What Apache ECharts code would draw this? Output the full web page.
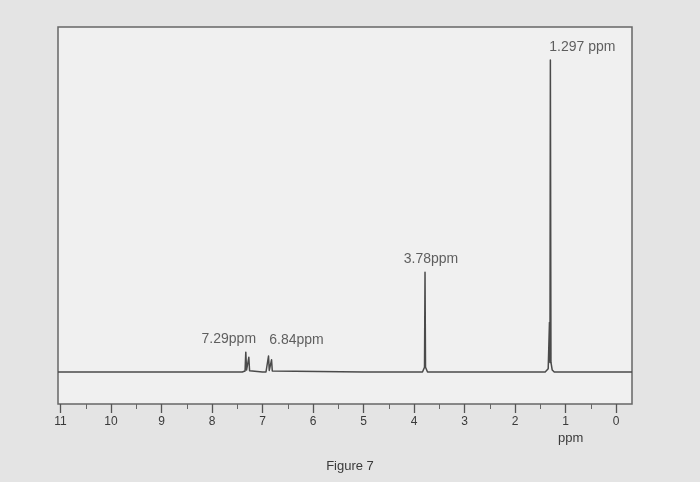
<!DOCTYPE html>
<html>
<head>
<meta charset="utf-8">
<script src="https://cdn.jsdelivr.net/npm/echarts@6/dist/echarts.min.js"></script>
<style>
html,body{margin:0;padding:0;background:#e4e4e4;}
#chart{width:700px;height:482px;}
</style>
</head>
<body>
<div id="chart"></div>
<script>
// Spectrum trace: [chemical shift (ppm), intensity]
const spectrum = [
  [11.05, 0], [7.40, 0], [7.345, 0.3], [7.33, 6.2], [7.315, 0.6], [7.285, 0.3], [7.27, 4.6], [7.255, 0.4], [7.23, 0],
  [7.0, 0], [6.93, 0], [6.895, 0.4], [6.88, 5.0], [6.865, 0.5], [6.835, 0.3], [6.82, 3.8], [6.805, 0.3], [6.78, 0],
  [5.0, 0], [3.83, 0], [3.79, 1.5], [3.78, 31.2], [3.77, 1.5], [3.73, 0],
  [2.0, 0], [1.40, 0], [1.34, 1.0], [1.315, 15.5], [1.305, 3], [1.297, 97.5], [1.285, 3], [1.26, 0.6], [1.22, 0],
  [-0.32, 0]
];
// Annotated peaks
const peakPpm = [7.29, 6.84, 3.78, 1.297];
const peakHeight = [6.2, 5.0, 31.2, 97.5];
const peakText = ['7.29ppm', '6.84ppm', '3.78ppm', '1.297 ppm'];
// Axis tick labels
const tickValues = [11, 10, 9, 8, 7, 6, 5, 4, 3, 2, 1, 0];
const axisName = 'ppm';
const figureTitle = 'Figure 7';

const labelOffsets = [[-19, -13], [26, -16], [6, -13], [32, -13]];

const chart = echarts.init(document.getElementById('chart'), null, {renderer: 'canvas'});
const font = 'Liberation Sans, Arial, sans-serif';

chart.setOption({
  backgroundColor: '#e4e4e4',
  animation: false,
  title: {
    text: figureTitle,
    left: 'center',
    top: 455,
    textStyle: {fontFamily: font, fontSize: 13, fontWeight: 'normal', color: '#3a3a3a'}
  },
  grid: [
    {left: 58, right: 68, top: 27, bottom: 78, show: true, backgroundColor: '#f0f0f0', borderColor: '#666', borderWidth: 1.5},
    {left: 60.5, right: 84, top: 27, bottom: 78, show: false}
  ],
  xAxis: [
    {
      type: 'value', gridIndex: 0, min: -0.32, max: 11.05, inverse: true,
      axisLine: {show: false, onZero: false}, axisTick: {show: false}, axisLabel: {show: false}, splitLine: {show: false}
    },
    {
      type: 'value', gridIndex: 1, min: 0, max: 11, interval: 1, inverse: true, position: 'bottom',
      axisLine: {show: false, onZero: false},
      axisTick: {show: true, inside: false, length: 9, lineStyle: {color: '#555', width: 1.3}},
      minorTick: {show: true, splitNumber: 2, length: 5, lineStyle: {color: '#666', width: 1}},
      axisLabel: {
        inside: false, margin: 12, fontFamily: font, fontSize: 12, color: '#3a3a3a',
        formatter: function (v) { return tickValues.indexOf(v) >= 0 ? String(v) : ''; }
      },
      splitLine: {show: false}
    }
  ],
  yAxis: [
    {type: 'value', gridIndex: 0, min: -10, max: 107.8, show: false},
    {type: 'value', gridIndex: 1, min: 0, max: 1, show: false}
  ],
  graphic: [
    {type: 'text', left: 558, top: 432, style: {text: axisName, font: '13px ' + font, fill: '#3a3a3a'}}
  ],
  series: [
    {
      type: 'line', xAxisIndex: 0, yAxisIndex: 0,
      data: spectrum, showSymbol: false, symbol: 'none',
      lineStyle: {color: '#4a4a4a', width: 1.5, join: 'round'}
    },
    {
      type: 'scatter', xAxisIndex: 0, yAxisIndex: 0, symbolSize: 0,
      data: peakPpm.map(function (p, i) {
        return {
          value: [p, peakHeight[i]],
          label: {show: true, position: 'inside', offset: labelOffsets[i], formatter: peakText[i],
                  fontFamily: font, fontSize: 14, color: '#3a3a3a'}
        };
      })
    },
    {type: 'line', xAxisIndex: 1, yAxisIndex: 1, data: []}
  ]
});
</script>
</body>
</html>
